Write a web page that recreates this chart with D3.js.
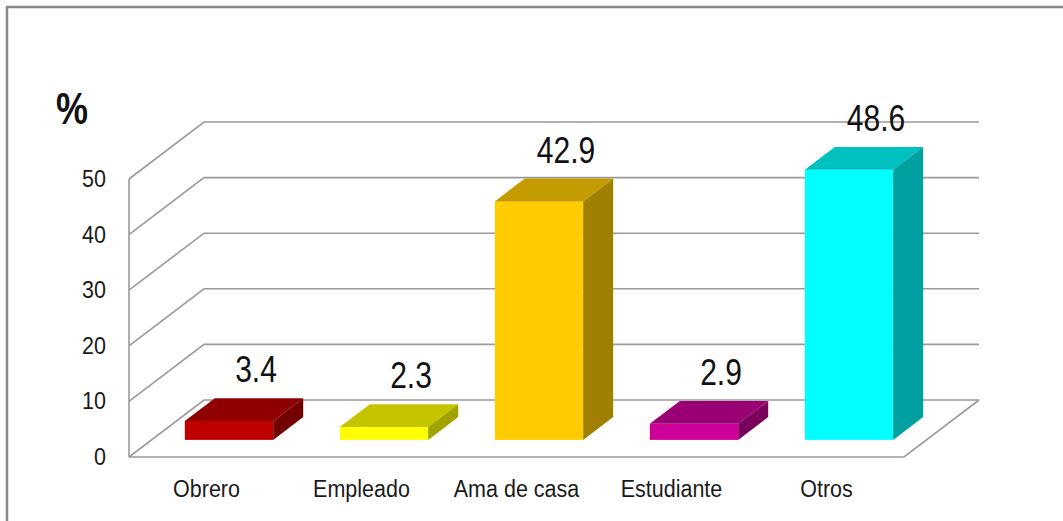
<!DOCTYPE html>
<html>
<head>
<meta charset="utf-8">
<script src="https://cdn.jsdelivr.net/npm/d3@7"></script>
<style>
  body { margin:0; background:#fff; }
  svg { display:block; font-family:"Liberation Sans", Arial, sans-serif; }
</style>
</head>
<body>
<svg id="board" width="1063" height="521"></svg>
<script>
// data
var categories = ["Obrero", "Empleado", "Ama de casa", "Estudiante", "Otros"];
var values = [3.4, 2.3, 42.9, 2.9, 48.6];
var yTicks = [0, 10, 20, 30, 40, 50];
var frontColors = ["#c00000", "#ffff00", "#ffcc00", "#cc0099", "#00ffff"];
var topColors = ["#900000", "#c4c400", "#c49c00", "#990073", "#00c0c0"];
var sideColors = ["#720000", "#a3a300", "#a08000", "#7a005c", "#00a0a0"];

var board = d3.select("#board");

// frame
board.append("rect")
  .attr("x", 7).attr("y", 7)
  .attr("width", 1100).attr("height", 600)
  .attr("fill", "white")
  .attr("stroke", "#888")
  .attr("stroke-width", 2.5);

var y = d3.scaleLinear().domain([0, 50]).range([457, 179]);
var x = d3.scaleBand().domain(categories).range([129, 904])
  .paddingInner(0.43).paddingOuter(0.215);

// depth of the floor, and where bars sit in it
var DX = 75, DY = 57;
var d0 = 0.3, d1 = 0.7;

var grid = board.append("g")
  .attr("fill", "none")
  .attr("stroke", "#9a9a9a")
  .attr("stroke-width", 1.6);

// side wall diagonals + back wall lines
yTicks.forEach(function(t)
{
  grid.append("path")
    .attr("d", "M" + 129 + "," + y(t) + "L" + (129 + DX) + "," + (y(t) - DY) + "L" + (904 + DX) + "," + (y(t) - DY));
});
// vertical axis
grid.append("line")
  .attr("x1", 129).attr("x2", 129)
  .attr("y1", y(0)).attr("y2", y(50));
// floor front + right edge
grid.append("path")
  .attr("d", "M129," + y(0) + "L904," + y(0) + "L" + (904 + DX) + "," + (y(0) - DY));

// tick labels
board.selectAll("text.tick").data(yTicks).enter().append("text")
  .attr("class", "tick")
  .attr("transform", function(d) { return "translate(106," + (y(d) + 8) + ") scale(1,1.1)"; })
  .attr("text-anchor", "end")
  .attr("font-size", 21.5)
  .attr("fill", "#1a1a1a")
  .text(function(d) { return d; });

// % label
board.append("text")
  .attr("transform", "translate(56,124) scale(1,1.25)")
  .attr("font-size", 36)
  .attr("font-weight", "bold")
  .attr("fill", "#111")
  .text("%");

// bars
var bars = board.selectAll("g.bar").data(categories).enter().append("g")
  .attr("class", "bar");

bars.each(function(c, i)
{
  var g = d3.select(this);
  var bw = x.bandwidth();
  var fx = x(c) + DX * d0;
  var fy0 = y(0) - DY * d0;
  var h = y(0) - y(values[i]);
  var fy1 = fy0 - h;
  var ox = DX * (d1 - d0), oy = DY * (d1 - d0);

  g.append("rect")
    .attr("x", fx).attr("y", fy1)
    .attr("width", bw).attr("height", h)
    .attr("fill", frontColors[i]);
  g.append("path")
    .attr("d", "M" + fx + "," + fy1 + "L" + (fx + ox) + "," + (fy1 - oy) + "L" + (fx + bw + ox) + "," + (fy1 - oy) + "L" + (fx + bw) + "," + fy1 + "Z")
    .attr("fill", topColors[i]);
  g.append("path")
    .attr("d", "M" + (fx + bw) + "," + fy1 + "L" + (fx + bw + ox) + "," + (fy1 - oy) + "L" + (fx + bw + ox) + "," + (fy0 - oy) + "L" + (fx + bw) + "," + fy0 + "Z")
    .attr("fill", sideColors[i]);

  // value label over the back of the top
  g.append("text")
    .attr("transform", "translate(" + (fx + ox + bw / 2 - 3) + "," + (fy1 - oy - 16) + ") scale(1,1.22)")
    .attr("text-anchor", "middle")
    .attr("font-size", 30)
    .attr("fill", "#111")
    .text(values[i]);

  // category label
  g.append("text")
    .attr("transform", "translate(" + (x(c) + bw / 2) + ",497) scale(1,1.15)")
    .attr("text-anchor", "middle")
    .attr("font-size", 21.5)
    .attr("fill", "#1a1a1a")
    .text(c);
});
</script>
</body>
</html>
